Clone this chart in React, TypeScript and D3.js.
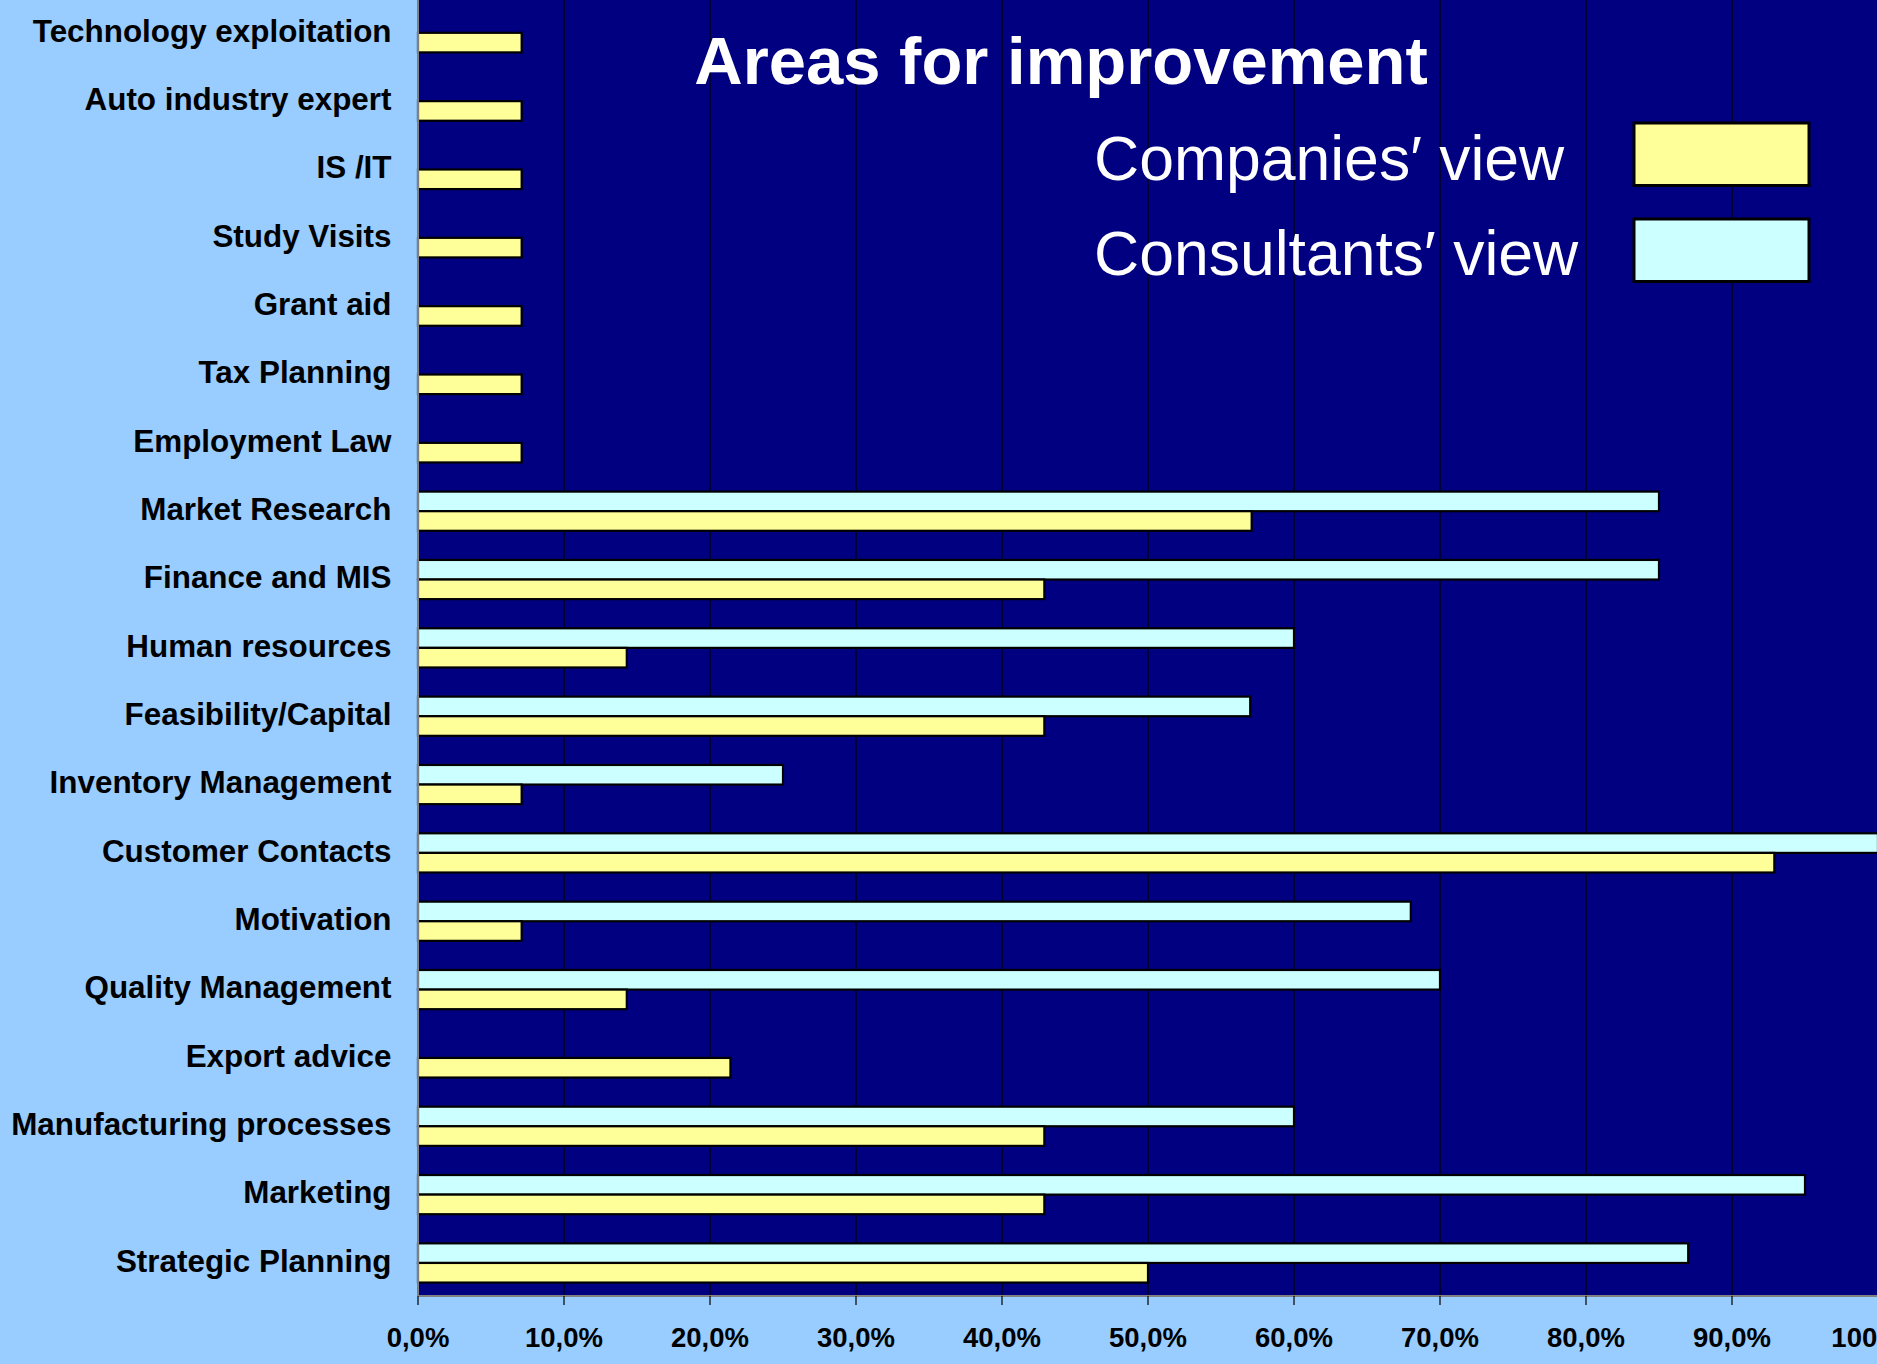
import React from "react";
import * as d3 from "d3";

const categories = [
  "Technology exploitation",
  "Auto industry expert",
  "IS /IT",
  "Study Visits",
  "Grant aid",
  "Tax Planning",
  "Employment Law",
  "Market Research",
  "Finance and MIS",
  "Human resources",
  "Feasibility/Capital",
  "Inventory Management",
  "Customer Contacts",
  "Motivation",
  "Quality Management",
  "Export advice",
  "Manufacturing processes",
  "Marketing",
  "Strategic Planning",
];

// Companies' view (%)
const companiesView = [7.1, 7.1, 7.1, 7.1, 7.1, 7.1, 7.1, 57.1, 42.9, 14.3, 42.9, 7.1, 92.9, 7.1, 14.3, 21.4, 42.9, 42.9, 50.0];
// Consultants' view (%)
const consultantsView = [0, 0, 0, 0, 0, 0, 0, 85, 85, 60, 57, 25, 100, 68, 70, 0, 60, 95, 87];

const xTickValues = [0, 10, 20, 30, 40, 50, 60, 70, 80, 90, 100];
const xTickLabels = ["0,0%", "10,0%", "20,0%", "30,0%", "40,0%", "50,0%", "60,0%", "70,0%", "80,0%", "90,0%", "100,0%"];

const seriesNames = ["Companies\u2032 view", "Consultants\u2032 view"];
const seriesColors = ["#FFFF99", "#CCFFFF"];

const W = 1877;
const H = 1364;
const FONT = "'Liberation Sans', Arial, Helvetica, sans-serif";

export default function App() {
  const plotLeft = 418;
  const plotTop = -2.5;
  const plotBottom = 1296;
  const x = d3.scaleLinear().domain([0, 100]).range([plotLeft, 1878]);
  const y = d3.scaleBand<string>().domain(categories).range([plotTop, plotBottom]).padding(0);
  const groupOffset = 15.7;
  const barH = 19.6;
  const inner = d3.scaleBand<string>().domain(["cons", "comp"]).range([groupOffset, groupOffset + 2 * barH]).padding(0);

  return (
    <svg width={W} height={H} style={{ position: "absolute", left: 0, top: 0, display: "block" }} fontFamily={FONT}>
      <rect x={0} y={0} width={W} height={H} fill="#99CCFF" />
      {/* plot area */}
      <rect x={plotLeft} y={plotTop} width={W - plotLeft + 10} height={plotBottom - plotTop} fill="#000080" />
      {/* gridlines */}
      {xTickValues.slice(1).map((t) => (
        <line key={"g" + t} x1={x(t)} x2={x(t)} y1={plotTop} y2={plotBottom} stroke="#000000" strokeWidth={1.2} />
      ))}
      {/* bars */}
      {categories.map((c, i) => {
        const y0 = y(c)!;
        return (
          <g key={c}>
            {consultantsView[i] > 0 && (
              <rect
                x={x(0)}
                y={y0 + inner("cons")!}
                width={x(consultantsView[i]) - x(0)}
                height={inner.bandwidth()}
                fill={seriesColors[1]}
                stroke="#000000"
                strokeWidth={2.2}
              />
            )}
            {companiesView[i] > 0 && (
              <rect
                x={x(0)}
                y={y0 + inner("comp")!}
                width={x(companiesView[i]) - x(0)}
                height={inner.bandwidth()}
                fill={seriesColors[0]}
                stroke="#000000"
                strokeWidth={2.2}
              />
            )}
          </g>
        );
      })}
      {/* axes lines */}
      <line x1={plotLeft} x2={plotLeft} y1={plotTop} y2={plotBottom} stroke="#808080" strokeWidth={2} />
      <line x1={plotLeft} x2={W} y1={plotBottom} y2={plotBottom} stroke="#808080" strokeWidth={2} />
      {xTickValues.map((t) => (
        <line key={"t" + t} x1={x(t)} x2={x(t)} y1={plotBottom} y2={plotBottom + 9} stroke="#000000" strokeWidth={1.2} />
      ))}
      {xTickValues.map((t, i) => (
        <text key={"l" + t} x={x(t)} y={1347} textAnchor="middle" fontSize={27.5} fontWeight="bold" fill="#000000">
          {xTickLabels[i]}
        </text>
      ))}
      {/* category labels */}
      {categories.map((c) => (
        <text key={"c" + c} x={391.5} y={y(c)! + y.bandwidth() / 2 + 10} textAnchor="end" fontSize={31.4} fontWeight="bold" fill="#000000">
          {c}
        </text>
      ))}
      {/* title */}
      <text x={1061} y={83.5} textAnchor="middle" fontSize={67} fontWeight="bold" fill="#FFFFFF">
        Areas for improvement
      </text>
      {/* legend */}
      {seriesNames.map((n, i) => (
        <g key={n}>
          <text x={1094} y={179.5 + i * 95.7} fontSize={62.5} fill="#FFFFFF">
            {n}
          </text>
          <rect x={1634} y={123 + i * 96} width={175} height={62.5} fill={seriesColors[i]} stroke="#000000" strokeWidth={3} />
        </g>
      ))}
    </svg>
  );
}
